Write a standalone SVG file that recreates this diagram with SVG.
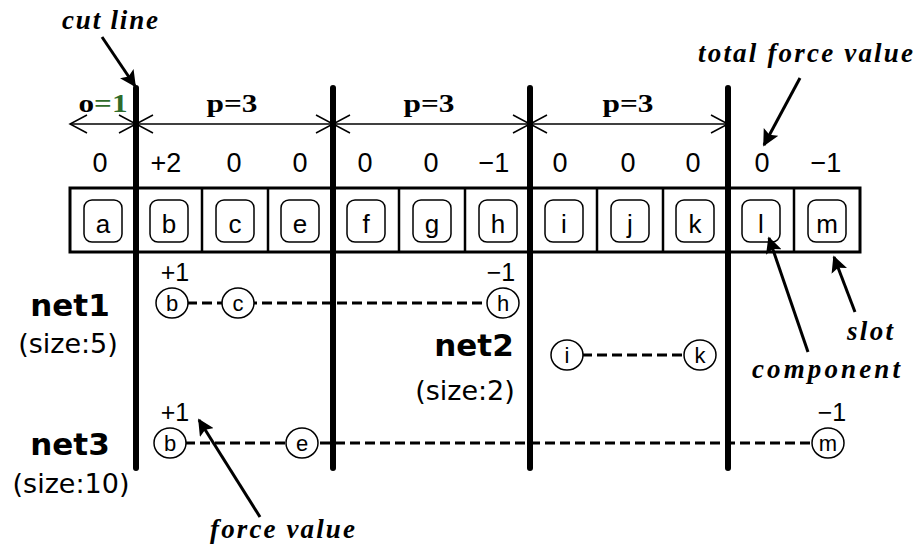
<svg xmlns="http://www.w3.org/2000/svg" width="920" height="552" viewBox="0 0 920 552">
<style>
.num{font-family:"Liberation Sans",Arial,sans-serif;font-size:27px;text-anchor:middle;fill:#000}
.lab{font-family:"Liberation Sans",Arial,sans-serif;font-size:26px;text-anchor:middle;fill:#000}
.clab{font-family:"Liberation Sans",Arial,sans-serif;font-size:22px;text-anchor:middle;fill:#000}
.fv{font-family:"Liberation Sans",Arial,sans-serif;font-size:25px;text-anchor:middle;fill:#000}
.ital{font-family:"Liberation Serif","Times New Roman",serif;font-size:27px;font-weight:bold;font-style:italic;fill:#000}
.dim{font-family:"Liberation Serif","Times New Roman",serif;font-size:25px;font-weight:bold;text-anchor:middle;fill:#000}
.net{font-family:"DejaVu Sans",Verdana,sans-serif;font-size:31px;font-weight:bold;text-anchor:middle;fill:#000}
.size{font-family:"DejaVu Sans",Verdana,sans-serif;font-size:27px;text-anchor:middle;fill:#000}
.comp{fill:#fff;stroke:#000;stroke-width:1.5}
.pin{fill:#fff;stroke:#000;stroke-width:1.5}
.cut{stroke:#000;stroke-width:6;stroke-linecap:round}
.wire{stroke:#000;stroke-width:3;stroke-dasharray:10 5;fill:none}
.dline{stroke:#000;stroke-width:1.5;fill:none}
.ptr{stroke:#000;stroke-width:3;fill:none;marker-end:url(#head)}
</style>
<defs>
<marker id="head" viewBox="0 0 10 10" refX="9" refY="5" markerWidth="5.5" markerHeight="5.5" orient="auto" markerUnits="strokeWidth">
<path d="M0,0 L10,5 L0,10 L2,5 Z" fill="#000"/>
</marker>
<marker id="open" viewBox="0 0 20 20" refX="18" refY="10" markerWidth="20" markerHeight="20" orient="auto-start-reverse" markerUnits="userSpaceOnUse">
<path d="M1,1 L18,10 L1,19" fill="none" stroke="#000" stroke-width="1.5"/>
</marker>
</defs>
<rect width="920" height="552" fill="#fff"/>

<!-- slot row -->
<g id="slots">
<rect x="70" y="188" width="790" height="64" fill="#fff" stroke="#000" stroke-width="3"/>
<g stroke="#000" stroke-width="2.5">
<line x1="202" y1="188" x2="202" y2="252"/>
<line x1="268" y1="188" x2="268" y2="252"/>
<line x1="399" y1="188" x2="399" y2="252"/>
<line x1="465" y1="188" x2="465" y2="252"/>
<line x1="597" y1="188" x2="597" y2="252"/>
<line x1="663" y1="188" x2="663" y2="252"/>
<line x1="794" y1="188" x2="794" y2="252"/>
</g>
</g>
<g id="comp-a"><rect class="comp" x="84" y="200" width="38" height="42" rx="8"/><text class="lab" x="103" y="233">a</text></g>
<g id="comp-b"><rect class="comp" x="150" y="200" width="38" height="42" rx="8"/><text class="lab" x="169" y="233">b</text></g>
<g id="comp-c"><rect class="comp" x="216" y="200" width="38" height="42" rx="8"/><text class="lab" x="235" y="233">c</text></g>
<g id="comp-e"><rect class="comp" x="281" y="200" width="38" height="42" rx="8"/><text class="lab" x="300" y="233">e</text></g>
<g id="comp-f"><rect class="comp" x="347" y="200" width="38" height="42" rx="8"/><text class="lab" x="366" y="233">f</text></g>
<g id="comp-g"><rect class="comp" x="413" y="200" width="38" height="42" rx="8"/><text class="lab" x="432" y="233">g</text></g>
<g id="comp-h"><rect class="comp" x="479" y="200" width="38" height="42" rx="8"/><text class="lab" x="498" y="233">h</text></g>
<g id="comp-i"><rect class="comp" x="545" y="200" width="38" height="42" rx="8"/><text class="lab" x="564" y="233">i</text></g>
<g id="comp-j"><rect class="comp" x="611" y="200" width="38" height="42" rx="8"/><text class="lab" x="630" y="233">j</text></g>
<g id="comp-k"><rect class="comp" x="676" y="200" width="38" height="42" rx="8"/><text class="lab" x="695" y="233">k</text></g>
<g id="comp-l"><rect class="comp" x="742" y="200" width="38" height="42" rx="8"/><text class="lab" x="761" y="233">l</text></g>
<g id="comp-m"><rect class="comp" x="808" y="200" width="38" height="42" rx="8"/><text class="lab" x="827" y="233">m</text></g>

<!-- total force values -->
<g id="totals">
<text class="num" x="100" y="172">0</text>
<text class="num" x="166" y="172">+2</text>
<text class="num" x="234" y="172">0</text>
<text class="num" x="300" y="172">0</text>
<text class="num" x="365" y="172">0</text>
<text class="num" x="431" y="172">0</text>
<text class="num" x="494" y="172">−1</text>
<text class="num" x="560" y="172">0</text>
<text class="num" x="628" y="172">0</text>
<text class="num" x="693" y="172">0</text>
<text class="num" x="762" y="172">0</text>
<text class="num" x="826" y="172">−1</text>
</g>

<!-- connectors -->
<g id="connectors">
<line class="wire" x1="172" y1="303" x2="503" y2="303"/>
<line class="wire" x1="567" y1="355" x2="700" y2="355"/>
<line class="wire" x1="170" y1="443" x2="828" y2="443"/>
<line class="dline" x1="70" y1="124" x2="136" y2="124" marker-start="url(#open)" marker-end="url(#open)"/>
<line class="dline" x1="136" y1="124" x2="333" y2="124" marker-start="url(#open)" marker-end="url(#open)"/>
<line class="dline" x1="333" y1="124" x2="530" y2="124" marker-start="url(#open)" marker-end="url(#open)"/>
<line class="dline" x1="530" y1="124" x2="728" y2="124" marker-start="url(#open)" marker-end="url(#open)"/>
<line class="ptr" x1="102" y1="37" x2="135" y2="86"/>
<line class="ptr" x1="800" y1="78" x2="764" y2="145"/>
<line class="ptr" x1="808" y1="352" x2="769" y2="238"/>
<line class="ptr" x1="855" y1="312" x2="834" y2="257"/>
<line class="ptr" x1="260" y1="517" x2="199" y2="420"/>
</g>

<!-- cut lines -->
<g id="cutlines">
<line class="cut" x1="136" y1="88" x2="136" y2="468"/>
<line class="cut" x1="333" y1="88" x2="333" y2="468"/>
<line class="cut" x1="530" y1="88" x2="530" y2="468"/>
<line class="cut" x1="728" y1="88" x2="728" y2="468"/>
</g>

<!-- dimension labels -->
<g id="dims">
<text class="dim" x="103" y="112" textLength="49" lengthAdjust="spacingAndGlyphs"><tspan>o</tspan><tspan fill="#2f6b2a">=1</tspan></text>
<text class="dim" x="232" y="112" textLength="51" lengthAdjust="spacingAndGlyphs">p=3</text>
<text class="dim" x="429" y="112" textLength="51" lengthAdjust="spacingAndGlyphs">p=3</text>
<text class="dim" x="628" y="112" textLength="51" lengthAdjust="spacingAndGlyphs">p=3</text>
</g>

<!-- net1 -->
<g id="net1">
<text class="net" x="70" y="316">net1</text>
<text class="size" x="68" y="353">(size:5)</text>
<text class="fv" x="175" y="281">+1</text>
<text class="fv" x="501" y="281">−1</text>
<g id="net1-b"><ellipse class="pin" cx="172" cy="303" rx="16" ry="15"/><text class="clab" x="172" y="311">b</text></g>
<g id="net1-c"><ellipse class="pin" cx="238" cy="303" rx="16" ry="15"/><text class="clab" x="238" y="311">c</text></g>
<g id="net1-h"><ellipse class="pin" cx="503" cy="303" rx="16" ry="15"/><text class="clab" x="503" y="311">h</text></g>
</g>

<!-- net2 -->
<g id="net2">
<text class="net" x="474" y="356">net2</text>
<text class="size" x="465" y="400">(size:2)</text>
<g id="net2-i"><ellipse class="pin" cx="567" cy="355" rx="16" ry="15"/><text class="clab" x="567" y="363">i</text></g>
<g id="net2-k"><ellipse class="pin" cx="700" cy="355" rx="16" ry="15"/><text class="clab" x="700" y="363">k</text></g>
</g>

<!-- net3 -->
<g id="net3">
<text class="net" x="70" y="455">net3</text>
<text class="size" x="71" y="493">(size:10)</text>
<text class="fv" x="175" y="421">+1</text>
<text class="fv" x="832" y="421">−1</text>
<g id="net3-b"><ellipse class="pin" cx="170" cy="443" rx="16" ry="15"/><text class="clab" x="170" y="451">b</text></g>
<g id="net3-e"><ellipse class="pin" cx="302" cy="443" rx="16" ry="15"/><text class="clab" x="302" y="451">e</text></g>
<g id="net3-m"><ellipse class="pin" cx="828" cy="443" rx="16" ry="15"/><text class="clab" x="828" y="451">m</text></g>
</g>

<!-- callout labels -->
<g id="callouts">
<text class="ital" x="62" y="29" textLength="96">cut line</text>
<text class="ital" x="698" y="62" textLength="215">total force value</text>
<text class="ital" x="847" y="340" textLength="46">slot</text>
<text class="ital" x="752" y="378" textLength="148">component</text>
<text class="ital" x="210" y="538" textLength="145">force value</text>
</g>
</svg>
